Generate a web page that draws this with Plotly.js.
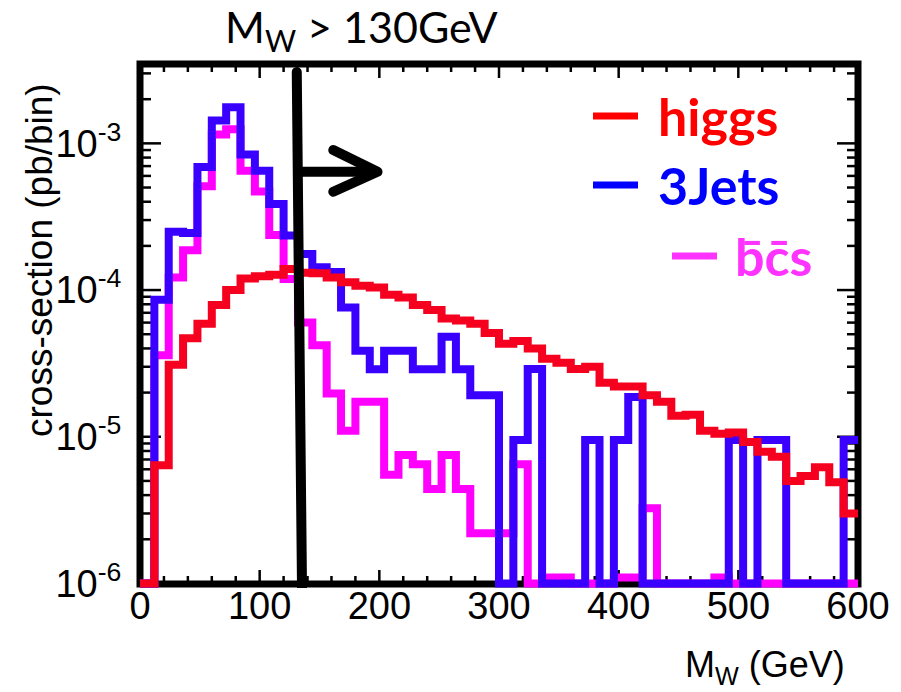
<!DOCTYPE html>
<html><head><meta charset="utf-8">
<script src="https://cdn.plot.ly/plotly-3.0.1.min.js"></script>
<style>html,body{margin:0;padding:0;background:#fff}</style>
</head><body><div id="chart" style="width:901px;height:692px"></div>
<script>
// ---- data (cross-section per 12 GeV bin, pb/bin; 0 = empty bin) ----
const binLow = [0,12,24,36,48,60,72,84,96,108,120,132,144,156,168,180,192,204,216,228,240,252,264,276,288,300,312,324,336,348,360,372,384,396,408,420,432,444,456,468,480,492,504,516,528,540,552,564,576,588];
const binUpper = 600;
const higgs = [0,6.4e-6,3.1e-5,4.7e-5,5.9e-5,7.9e-5,1.0e-4,1.2e-4,1.24e-4,1.27e-4,
  1.39e-4,1.31e-4,1.30e-4,1.22e-4,1.13e-4,1.07e-4,1.04e-4,9.3e-5,8.9e-5,7.9e-5,
  7.3e-5,6.4e-5,6.2e-5,5.9e-5,5.1e-5,4.3e-5,4.5e-5,4.0e-5,3.4e-5,3.2e-5,
  2.9e-5,3.0e-5,2.33e-5,2.2e-5,2.2e-5,1.92e-5,1.73e-5,1.39e-5,1.41e-5,1.1e-5,
  1.05e-5,1.07e-5,9.2e-6,7.9e-6,7.3e-6,5.0e-6,5.4e-6,6.2e-6,4.9e-6,3.0e-6];
const threeJets = [0,8.6e-5,2.5e-4,2.45e-4,6.9e-4,1.43e-3,1.76e-3,8.4e-4,6.5e-4,3.86e-4,
  2.35e-4,1.76e-4,1.43e-4,1.33e-4,7.6e-5,3.86e-5,2.88e-5,3.86e-5,3.86e-5,2.88e-5,
  2.88e-5,4.8e-5,2.88e-5,1.92e-5,1.92e-5,0,9.5e-6,2.9e-5,0,0,
  0,9.5e-6,0,9.5e-6,1.87e-5,0,0,0,0,0,
  0,9.5e-6,0,9.5e-6,9.5e-6,0,0,0,0,9.5e-6];
const bcs = [0,3.6e-5,1.22e-4,1.87e-4,5.1e-4,1.15e-3,1.25e-3,6.5e-4,4.7e-4,2.37e-4,
  1.19e-4,6.0e-5,4.2e-5,1.97e-5,1.1e-5,1.73e-5,1.73e-5,5.5e-6,7.5e-6,6.5e-6,
  4.4e-6,7.5e-6,4.4e-6,2.2e-6,2.2e-6,2.2e-6,6.5e-6,0,1.1e-6,1.1e-6,
  0,0,0,1.1e-6,1.1e-6,3.25e-6,0,0,0,0,
  1.1e-6,0,0,0,0,0,0,0,0,0];
const seriesNames = ['higgs', '3Jets', 'b\u0304c\u0304s'];
// axis ticks and labels
const xMajorTicks = [0,100,200,300,400,500,600];
const xMinorTicks = [20,40,60,80,120,140,160,180,220,240,260,280,320,340,360,380,420,440,460,480,520,540,560,580];
const yMajorTicks = [1e-6,1e-5,1e-4,1e-3];
const yTickLabels = ['10<sup>-6</sup>','10<sup>-5</sup>','10<sup>-4</sup>','10<sup>-3</sup>'];
const yMinorTicks = [2e-6,3e-6,4e-6,5e-6,6e-6,7e-6,8e-6,9e-6,2e-5,3e-5,4e-5,5e-5,6e-5,7e-5,8e-5,9e-5,
  2e-4,3e-4,4e-4,5e-4,6e-4,7e-4,8e-4,9e-4,2e-3,3e-3];
// cut marker M_W > 130 GeV and arrow
const cutX = [131, 135.4];
const cutY = [3.06e-3, 9e-7];
const arrowShaftX = [135.4, 197];
const arrowShaftY = [6.4e-4, 6.4e-4];
const arrowHeadX = [161.5, 198.5, 161.5];
const arrowHeadY = [9.0e-4, 6.4e-4, 4.68e-4];
const yFloor = 1e-6;

// ---- build ----
function stepTrace(vals, color) {
  const xs = binLow.concat([binUpper]);
  const ys = vals.map(v => v > 0 ? v : yFloor);
  ys.push(ys[ys.length - 1]);
  return {x: xs, y: ys, type: 'scatter', mode: 'lines',
    line: {shape: 'hv', color: color, width: 8}, hoverinfo: 'skip'};
}
const traces = [
  stepTrace(bcs, '#FF00FF'),
  stepTrace(threeJets, '#3A00FF'),
  stepTrace(higgs, '#F5001E'),
  {x: cutX, y: cutY, type: 'scatter', mode: 'lines', line: {color: '#000', width: 10}, hoverinfo: 'skip'},
  {x: arrowShaftX, y: arrowShaftY, type: 'scatter', mode: 'lines', line: {color: '#000', width: 10}, hoverinfo: 'skip'},
  {x: arrowHeadX, y: arrowHeadY, type: 'scatter', mode: 'lines', line: {color: '#000', width: 10}, hoverinfo: 'skip'}
];

const L = 140, T = 64, W = 718, H = 524;
const xRange = [0, 600], yRange = [-6.031, -2.459];
const px = p => (p - L) / W;
const py = p => 1 - (p - T) / H;
const xFrac = v => (v - xRange[0]) / (xRange[1] - xRange[0]);
const yFrac = v => (Math.log10(v) - yRange[0]) / (yRange[1] - yRange[0]);
const yBottomFrame = py(584);
const sans = 'Liberation Sans, Arial, sans-serif';

const shapes = [
  {type: 'rect', xref: 'paper', yref: 'paper', x0: 0, x1: 1, y0: yBottomFrame, y1: 1, layer: 'below',
    line: {color: '#000', width: 7}, fillcolor: 'rgba(0,0,0,0)'}
];
function tickLine(x0, x1, y0, y1) {
  shapes.push({type: 'line', xref: 'paper', yref: 'paper', x0, x1, y0, y1, layer: 'below', line: {color: '#000', width: 2.5}});
}
function addXTicks(vals, len) {
  vals.forEach(v => {
    const f = xFrac(v);
    tickLine(f, f, yBottomFrame, yBottomFrame + len / H);
    tickLine(f, f, 1, 1 - len / H);
  });
}
function addYTicks(vals, len) {
  vals.forEach(v => {
    const f = yFrac(v);
    if (f < 0 || f > 1) return;
    tickLine(0, len / W, f, f);
    tickLine(1, 1 - len / W, f, f);
  });
}
addXTicks(xMajorTicks, 14);
addXTicks(xMinorTicks, 8);
addYTicks(yMajorTicks, 21);
addYTicks(yMinorTicks, 11);
// legend swatches
shapes.push(
  {type: 'line', xref: 'paper', yref: 'paper', x0: px(593), x1: px(638), y0: py(116), y1: py(116), line: {color: '#FF0000', width: 7}},
  {type: 'line', xref: 'paper', yref: 'paper', x0: px(593), x1: px(638), y0: py(185), y1: py(185), line: {color: '#0000FF', width: 7}},
  {type: 'line', xref: 'paper', yref: 'paper', x0: px(672), x1: px(717), y0: py(256), y1: py(256), line: {color: '#FF33FF', width: 7}}
);

const layout = {
  width: 901, height: 692,
  margin: {l: L, r: 901 - L - W, t: T, b: 692 - T - H, pad: 0},
  paper_bgcolor: '#fff', plot_bgcolor: 'rgba(0,0,0,0)', showlegend: false,
  xaxis: {range: xRange, tickmode: 'array', tickvals: xMajorTicks, ticks: '', showline: false, showgrid: false, zeroline: false,
    tickfont: {family: sans, size: 38, color: '#000'}, ticklabelstandoff: -8, fixedrange: true},
  yaxis: {type: 'log', range: yRange, tickmode: 'array', tickvals: yMajorTicks, ticktext: yTickLabels,
    ticks: 'outside', ticklen: 10, tickcolor: 'rgba(0,0,0,0)', showline: false, showgrid: false, zeroline: false,
    tickfont: {family: sans, size: 38, color: '#000'}, fixedrange: true},
  shapes: shapes,
  annotations: [
    {text: 'M<sub>W</sub> > 130GeV', xref: 'paper', yref: 'paper', x: px(361), y: py(29), xanchor: 'center', yanchor: 'middle',
      showarrow: false, font: {family: 'Lato, sans-serif', size: 43, color: '#000'}},
    {text: 'M<sub>W</sub> (GeV)', xref: 'paper', yref: 'paper', x: px(847), y: py(667), xanchor: 'right', yanchor: 'middle',
      showarrow: false, font: {family: sans, size: 36, color: '#000'}},
    {text: 'cross-section (pb/bin)', xref: 'paper', yref: 'paper', x: px(39), y: py(260), xanchor: 'center', yanchor: 'middle',
      textangle: -90, showarrow: false, font: {family: sans, size: 37, color: '#000'}},
    {text: seriesNames[0], xref: 'paper', yref: 'paper', x: px(656), y: py(116), xanchor: 'left', yanchor: 'middle',
      showarrow: false, font: {family: 'Lato, sans-serif', size: 52, weight: 700, color: '#FF0000'}},
    {text: seriesNames[1], xref: 'paper', yref: 'paper', x: px(656), y: py(185), xanchor: 'left', yanchor: 'middle',
      showarrow: false, font: {family: 'Lato, sans-serif', size: 52, weight: 700, color: '#0000FF'}},
    {text: seriesNames[2], xref: 'paper', yref: 'paper', x: px(733), y: py(256), xanchor: 'left', yanchor: 'middle',
      showarrow: false, font: {family: 'Lato, sans-serif', size: 52, weight: 700, color: '#FF33FF'}}
  ]
};

Plotly.newPlot('chart', traces, layout, {staticPlot: true, displayModeBar: false}).then(() => {
  const groups = document.querySelectorAll('.scatterlayer .trace');
  [3, 4, 5].forEach(i => {
    const p = groups[i] && groups[i].querySelector('.js-line');
    if (p) { p.style.strokeLinejoin = 'round'; p.style.strokeLinecap = 'round'; }
  });
});
</script>
</body></html>
